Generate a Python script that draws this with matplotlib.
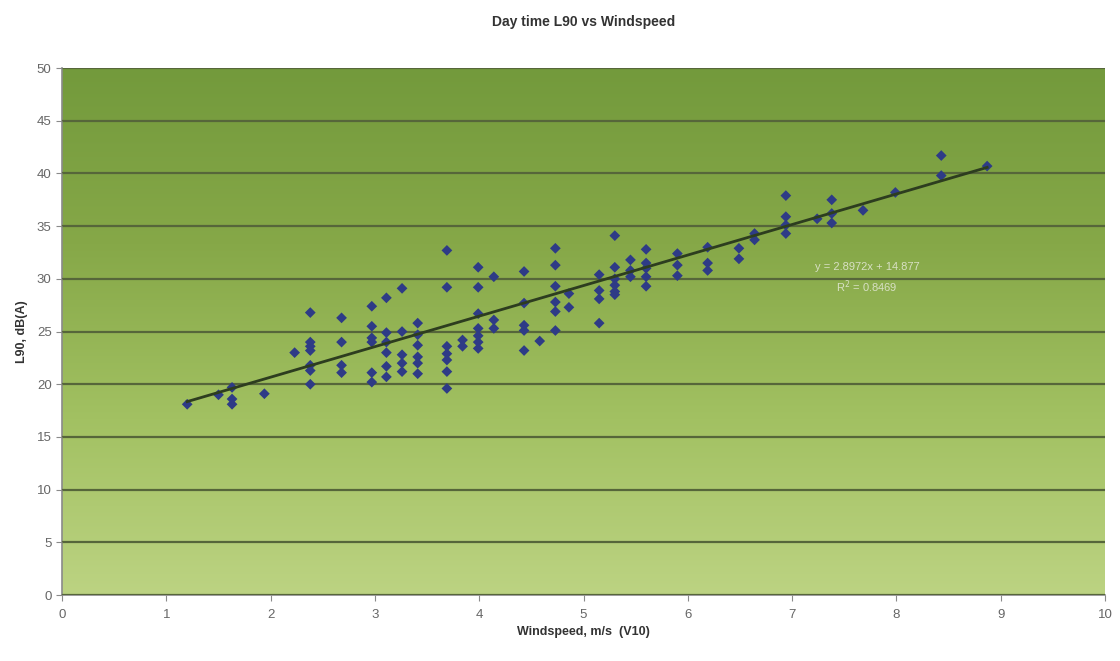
import numpy as np
import matplotlib.pyplot as plt
from matplotlib.colors import LinearSegmentedColormap

plt.rcParams['font.family'] = ['Liberation Sans', 'DejaVu Sans']

# Windspeed (m/s) columns and the L90 readings measured at each
windspeed = [
    1.20, 1.50, 1.63, 1.63, 1.63, 1.94, 2.23,
    2.38, 2.38, 2.38, 2.38, 2.38, 2.38, 2.38,
    2.68, 2.68, 2.68, 2.68,
    2.97, 2.97, 2.97, 2.97, 2.97, 2.97,
    3.11, 3.11, 3.11, 3.11, 3.11, 3.11,
    3.26, 3.26, 3.26, 3.26, 3.26,
    3.41, 3.41, 3.41, 3.41, 3.41, 3.41,
    3.69, 3.69, 3.69, 3.69, 3.69, 3.69, 3.69,
    3.84, 3.84,
    3.99, 3.99, 3.99, 3.99, 3.99, 3.99, 3.99,
    4.14, 4.14, 4.14,
    4.43, 4.43, 4.43, 4.43, 4.43,
    4.58,
    4.73, 4.73, 4.73, 4.73, 4.73, 4.73,
    4.86, 4.86,
    5.15, 5.15, 5.15, 5.15,
    5.30, 5.30, 5.30, 5.30, 5.30, 5.30,
    5.45, 5.45, 5.45,
    5.60, 5.60, 5.60, 5.60, 5.60,
    5.90, 5.90, 5.90,
    6.19, 6.19, 6.19,
    6.49, 6.49,
    6.64, 6.64,
    6.94, 6.94, 6.94, 6.94,
    7.24,
    7.38, 7.38, 7.38,
    7.68, 7.99, 8.43, 8.43, 8.87,
]
l90 = [
    18.1, 19.0, 19.7, 18.6, 18.1, 19.1, 23.0,
    26.8, 24.0, 23.6, 23.2, 21.8, 21.3, 20.0,
    26.3, 24.0, 21.8, 21.1,
    27.4, 25.5, 24.4, 24.0, 21.1, 20.2,
    28.2, 24.9, 24.0, 23.0, 21.7, 20.7,
    29.1, 25.0, 22.8, 22.0, 21.2,
    25.8, 24.7, 23.7, 22.6, 22.0, 21.0,
    32.7, 29.2, 23.6, 22.9, 22.3, 21.2, 19.6,
    24.2, 23.6,
    31.1, 29.2, 26.7, 25.3, 24.6, 24.0, 23.4,
    30.2, 26.1, 25.3,
    30.7, 27.7, 25.6, 25.1, 23.2,
    24.1,
    32.9, 31.3, 29.3, 27.8, 26.9, 25.1,
    28.6, 27.3,
    30.4, 28.9, 28.1, 25.8,
    34.1, 31.1, 30.0, 29.4, 28.8, 28.5,
    31.8, 30.8, 30.2,
    32.8, 31.5, 31.0, 30.2, 29.3,
    32.4, 31.3, 30.3,
    33.0, 31.5, 30.8,
    32.9, 31.9,
    34.3, 33.7,
    37.9, 35.9, 35.1, 34.3,
    35.7,
    37.5, 36.2, 35.3,
    36.5, 38.2, 41.7, 39.8, 40.7,
]

# Excel-style linear trendline reported on the chart
slope, intercept, r_squared = 2.8972, 14.877, 0.8469

fig = plt.figure(figsize=(11.2, 6.61), dpi=100)
ax = fig.add_axes([0.0554, 0.0998, 0.9312, 0.7972])

# vertical olive-to-lime gradient behind the plot
grad = LinearSegmentedColormap.from_list('bg', ['#bcd382', '#a2c162', '#86a848', '#739a3c'])
ax.imshow(np.linspace(0, 1, 256).reshape(-1, 1), cmap=grad, aspect='auto',
          extent=[0, 10, 0, 50], origin='lower', zorder=0)

ax.set_xlim(0, 10)
ax.set_ylim(0, 50)
ax.set_xticks(range(0, 11))
ax.set_yticks(range(0, 51, 5))
ax.yaxis.grid(True, color='#56663a', linewidth=1.6, zorder=1)
ax.set_axisbelow(False)

ax.scatter(windspeed, l90, marker='D', s=30, color='#2e3b86', edgecolors='none', zorder=3)

xs = np.array([min(windspeed), max(windspeed)])
ax.plot(xs, slope * xs + intercept, color='#2d3d1f', linewidth=2, zorder=4)

ax.text(7.72, 30.0, f'y = {slope}x + {intercept}\nR$^2$ = {r_squared}', ha='center', va='center',
        fontsize=8, color='#d8e0c4', linespacing=1.5, zorder=5)

for side in ('top', 'right'):
    ax.spines[side].set_visible(False)
for side in ('left', 'bottom'):
    ax.spines[side].set_color('#8a8a8a')
    ax.spines[side].set_linewidth(1.2)
ax.tick_params(colors='#8a8a8a', labelcolor='#666666', labelsize=9.5, length=4)
ax.tick_params(axis='x', pad=6)

ax.set_title('Day time L90 vs Windspeed', fontsize=10, fontweight='bold', color='#333333', pad=30)
ax.set_xlabel('Windspeed, m/s  (V10)', fontsize=9, fontweight='bold', color='#333333', labelpad=4)
ax.set_ylabel('L90, dB(A)', fontsize=9, fontweight='bold', color='#333333', labelpad=6)

fig.savefig('out.png', dpi=100)
